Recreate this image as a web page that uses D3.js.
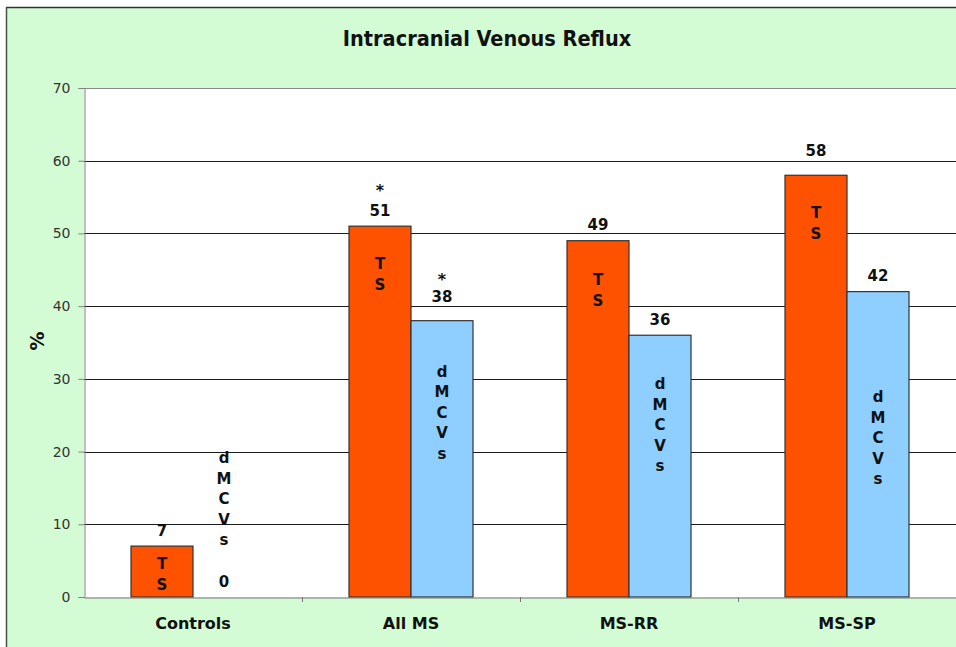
<!DOCTYPE html>
<html><head><meta charset="utf-8">
<script src="https://cdn.jsdelivr.net/npm/d3@7"></script>
<style>html,body{margin:0;padding:0;background:#fff;overflow:hidden}</style>
</head><body>
<svg id="c" width="956" height="647"></svg>
<script>
// ---- data ----
const categories = ["Controls", "All MS", "MS-RR", "MS-SP"];
const seriesNames = ["TS", "dMCVs"];
const tsValues = [7, 51, 49, 58];
const dmcvValues = [0, 38, 36, 42];
const tsStars = ["", "*", "", ""];
const dmcvStars = ["", "*", "", ""];
// vertical centre of the stacked in-bar labels, in data units (%)
const tsLabelAt = [3.2, 44.4, 42.2, 51.4];
const dmcvLabelAt = [13.5, 25.4, 23.7, 21.9];
const yTicks = [0, 10, 20, 30, 40, 50, 60, 70];
const title = "Intracranial Venous Reflux";
const yTitle = "%";

// ---- layout ----
const svg = d3.select("#c");
const W = 956, H = 647;
const font = "'DejaVu Sans', Verdana, sans-serif";
const tsValueLift = [0, 0, 0, 9];   // extra pixel lift for value labels (avoid gridline)
const dmcvValueLift = [0, 8, 0, 0];

svg.append("rect").attr("width", W).attr("height", H).attr("fill", "#fff");
svg.append("rect").attr("x", 6).attr("y", 7).attr("width", W - 6).attr("height", H - 7).attr("fill", "#D4FCD4");
svg.append("line").attr("x1", 6).attr("x2", W).attr("y1", 7.5).attr("y2", 7.5).attr("stroke", "#333").attr("stroke-width", 1.5);
svg.append("line").attr("x1", 6.5).attr("x2", 6.5).attr("y1", 7).attr("y2", H).attr("stroke", "#445544").attr("stroke-width", 1.5);

const L = 84, R = 956, T = 88, B = 597;
const y = d3.scaleLinear().domain([0, 70]).range([B, T]);
const x0 = d3.scaleBand().domain(categories).range([L, R]).paddingInner(0).paddingOuter(0);
const x1 = d3.scaleBand().domain(seriesNames).range([0, x0.bandwidth()]).paddingInner(0).paddingOuter(0.758);

svg.append("rect").attr("x", L).attr("y", T).attr("width", R - L + 2).attr("height", B - T).attr("fill", "#fff");

const g = svg.append("g");
g.selectAll("line.grid").data(yTicks.filter(d => d > 0 && d < 70)).join("line")
  .attr("x1", L).attr("x2", R).attr("y1", d => Math.round(y(d)) + 0.5).attr("y2", d => Math.round(y(d)) + 0.5)
  .attr("stroke", "#1a1a1a").attr("stroke-width", 1);
g.append("line").attr("x1", L).attr("x2", R).attr("y1", y(70) + 0.5).attr("y2", y(70) + 0.5).attr("stroke", "#888");

const yAxis = d3.axisLeft(y).tickValues(yTicks).tickSize(6).tickPadding(8);
const ya = svg.append("g").attr("transform", `translate(${L + 0.5},0)`).call(yAxis);
ya.select(".domain").attr("stroke", "#808080");
ya.selectAll(".tick line").attr("stroke", "#808080");
ya.selectAll(".tick text").attr("font-family", font).attr("font-size", 14).attr("fill", "#333");

const data = categories.map((c, i) => ({c, vals: [
  {s: "TS", v: tsValues[i], star: tsStars[i], at: tsLabelAt[i], lift: tsValueLift[i]},
  {s: "dMCVs", v: dmcvValues[i], star: dmcvStars[i], at: dmcvLabelAt[i], lift: dmcvValueLift[i]}
]}));
const colors = {TS: "#FF5200", dMCVs: "#8FCFFF"};

const grp = svg.selectAll("g.cat").data(data).join("g").attr("class", "cat")
  .attr("transform", d => `translate(${x0(d.c)},0)`);

grp.selectAll("rect").data(d => d.vals.filter(v => v.v > 0)).join("rect")
  .attr("x", d => x1(d.s)).attr("width", x1.bandwidth())
  .attr("y", d => y(d.v)).attr("height", d => y(0) - y(d.v))
  .attr("fill", d => colors[d.s]).attr("stroke", "#333").attr("stroke-width", 1.2);

const xAxis = d3.axisBottom(x0).tickSize(0).tickPadding(20);
const xa = svg.append("g").attr("transform", `translate(0,${B + 0.5})`).call(xAxis);
xa.select(".domain").attr("stroke", "#777").attr("stroke-width", 1.2);
xa.selectAll(".tick text").attr("font-family", font).attr("font-size", 16).attr("font-weight", "bold").attr("fill", "#111");
svg.selectAll("line.sep").data(categories.slice(1)).join("line")
  .attr("x1", d => x0(d) + 0.5).attr("x2", d => x0(d) + 0.5).attr("y1", B).attr("y2", B + 5)
  .attr("stroke", "#777");

// value labels (with optional star above, in the same text element)
grp.selectAll("text.val").data(d => d.vals).join("text")
  .attr("class", "val")
  .attr("text-anchor", "middle")
  .attr("font-family", font).attr("font-size", 15).attr("font-weight", "bold").attr("fill", "#111")
  .each(function(d) {
    const t = d3.select(this);
    const cx = x1(d.s) + x1.bandwidth() / 2;
    const cy = y(d.v) - 16 - d.lift;
    if (d.star) {
      const gap = d.s === "TS" ? 24 : 21;
      t.append("tspan").attr("x", cx).attr("y", cy - gap + 9.4).attr("font-size", 16).text(d.star);
    }
    t.append("tspan").attr("x", cx).attr("y", cy + 5.5).text(d.v);
  });

// stacked in-bar labels
grp.each(function(d) {
  const gg = d3.select(this);
  d.vals.forEach(v => {
    const letters = v.s === "TS" ? ["T", "S"] : ["d", "M", "C", "V", "s"];
    const step = v.s === "TS" ? 21 : 20.5;
    const cy = y(v.at);
    const cx = x1(v.s) + x1.bandwidth() / 2;
    const t = gg.append("text").attr("text-anchor", "middle")
      .attr("font-family", font).attr("font-size", 15).attr("font-weight", "bold").attr("fill", "#111");
    letters.forEach((ch, k) => {
      t.append("tspan").attr("x", cx).attr("y", cy + (k - (letters.length - 1) / 2) * step + 5.5).text(ch);
    });
  });
});

svg.append("text").attr("x", 487).attr("y", 38).attr("dy", "0.36em").attr("text-anchor", "middle")
  .attr("font-family", "'DejaVu Sans Condensed', 'DejaVu Sans', sans-serif").attr("font-stretch", "condensed")
  .attr("font-size", 21.5).attr("font-weight", "bold").attr("fill", "#111").text(title);
svg.append("text").attr("transform", `translate(37,341) rotate(-90)`).attr("dy", "0.36em").attr("text-anchor", "middle")
  .attr("font-family", font).attr("font-size", 19).attr("font-weight", "bold").attr("fill", "#111").text(yTitle);
</script>
</body></html>
